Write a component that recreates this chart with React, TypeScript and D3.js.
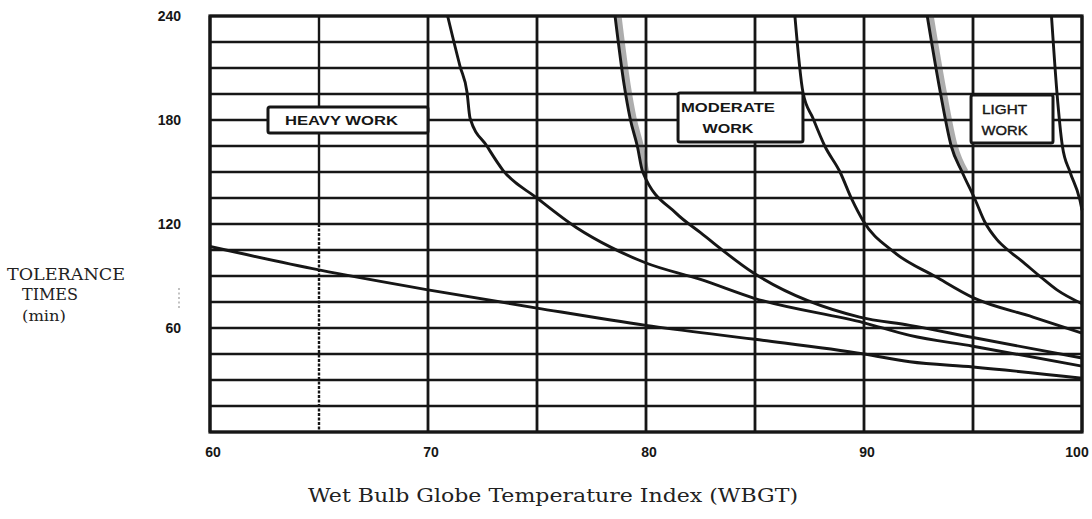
import * as d3 from "d3";

// tick values
const xTicks = [60, 70, 80, 90, 100];
const yTicks = [60, 120, 180, 240];
const xGrid = [60, 65, 70, 75, 80, 85, 90, 95, 100];
const yGrid = [0, 15, 30, 45, 60, 75, 90, 105, 120, 135, 150, 165, 180, 195, 210, 225, 240];

// curves: [WBGT, tolerance minutes]
const heavyLower = [
  [60, 107], [65, 93.5], [70, 82], [75, 71.5], [80, 61.5], [85, 53.5],
  [90, 45], [92.1, 40.5], [95, 37.5], [100, 31],
];
const heavyUpper = [
  [70.9, 240], [71.47, 211], [71.79, 196], [71.93, 181], [72.7, 165],
  [73.44, 151], [75, 135], [76.8, 118], [78.4, 106.5], [80, 97.5],
  [82.5, 88], [85, 77], [90, 63], [92.1, 55.7], [95, 49.5], [100, 38],
];
const moderateLower = [
  [78.58, 240], [79.0, 200], [79.27, 181], [79.6, 165], [79.85, 150],
  [81.4, 126], [82.5, 115], [84.9, 92], [89.8, 66.3], [92.1, 61.5],
  [95, 54.5], [100, 42.7],
];
const moderateUpper = [
  [86.83, 240], [87.2, 196], [87.66, 181], [88.2, 165], [88.9, 150],
  [89.45, 134], [89.95, 122], [91.35, 104], [93.3, 89.5], [95, 77.5],
  [97.75, 66.3], [100, 57],
];
const lightLower = [
  [92.9, 240], [93.5, 196], [94.0, 165], [94.5, 150], [95.1, 134],
  [95.55, 121], [96.1, 111], [96.6, 105], [97.2, 99], [98.1, 89.5],
  [98.85, 82], [100, 74],
];
const lightUpper = [
  [98.6, 240], [98.85, 196], [99.1, 165], [99.45, 150], [99.9, 134], [100, 128],
];

const curves = [heavyLower, heavyUpper, moderateLower, moderateUpper, lightLower, lightUpper];
const smudged = [moderateLower, lightLower];

// label boxes in data units
const boxes = [
  { lines: ["HEAVY WORK"], widths: [113], x0: 62.66, x1: 70, y0: 187.5, y1: 172.5, tx: 66.03, bold: true },
  { lines: ["MODERATE", "WORK"], widths: [94, 51], x0: 81.47, x1: 87.2, y0: 195.6, y1: 167.3, tx: 83.76, bold: true },
  { lines: ["LIGHT", "WORK"], widths: [45, 46], x0: 94.91, x1: 98.67, y0: 194.4, y1: 166.7, tx: 96.45, bold: false },
];

export default function App() {
  const width = 1092;
  const height = 519;

  const x = d3.scaleLinear().domain([60, 100]).range([210, 1082]);
  const y = d3.scaleLinear().domain([0, 240]).range([432, 16]);

  const line = d3
    .line<number[]>()
    .x((d) => x(d[0]))
    .y((d) => y(d[1]))
    .curve(d3.curveMonotoneX);

  const ink = "#161616";
  const sans = "'Liberation Sans', Arial, sans-serif";
  const serif = "'DejaVu Serif', serif";

  return (
    <svg
      width={width}
      height={height}
      style={{ position: "absolute", left: 0, top: 0, background: "#fff" }}
    >
      {/* horizontal grid */}
      {yGrid.map((v) => (
        <line key={"h" + v} x1={x(60)} x2={x(100)} y1={y(v)} y2={y(v)} stroke={ink} strokeWidth={2.6} />
      ))}
      {/* vertical grid */}
      {xGrid.map((v) =>
        v === 65 ? (
          <g key={"v" + v}>
            <line x1={x(v)} x2={x(v)} y1={y(240)} y2={y(120)} stroke={ink} strokeWidth={2.4} />
            <line x1={x(v)} x2={x(v)} y1={y(120)} y2={y(0)} stroke={ink} strokeWidth={2.4} strokeDasharray="3,1.5" />
          </g>
        ) : (
          <line key={"v" + v} x1={x(v)} x2={x(v)} y1={y(0)} y2={y(240)} stroke={ink} strokeWidth={2.8} />
        )
      )}
      <rect x={x(60)} y={y(240)} width={x(100) - x(60)} height={y(0) - y(240)} fill="none" stroke={ink} strokeWidth={3.2} />

      {/* smudge from the copy along the steep parts */}
      {smudged.map((c, i) => (
        <path
          key={"s" + i}
          d={line(c.filter((d) => d[1] >= 150)) || ""}
          fill="none"
          stroke="#333"
          strokeOpacity={0.4}
          strokeWidth={7}
          transform="translate(3,0)"
        />
      ))}

      {/* curves */}
      {curves.map((c, i) => (
        <path key={"c" + i} d={line(c) || ""} fill="none" stroke={ink} strokeWidth={2.9} strokeLinejoin="round" />
      ))}

      {/* label boxes */}
      {boxes.map((b, i) => {
        const bx = x(b.x0);
        const by = y(b.y0);
        const bw = x(b.x1) - x(b.x0);
        const bh = y(b.y1) - y(b.y0);
        const n = b.lines.length;
        return (
          <g key={"b" + i}>
            <rect x={bx} y={by} width={bw} height={bh} rx={2} fill="#fff" stroke={ink} strokeWidth={3} />
            {b.lines.map((t, j) => (
              <text
                key={j}
                x={x(b.tx)}
                y={by + bh / 2 + (n === 1 ? 5 : j === 0 ? -5 : 16)}
                textAnchor="middle"
                fontFamily={sans}
                fontWeight={b.bold ? "bold" : "normal"}
                fontSize={13}
                textLength={b.widths[j]}
                lengthAdjust="spacingAndGlyphs"
                fill={ink}
                stroke={b.bold ? "none" : ink}
                strokeWidth={b.bold ? 0 : 0.4}
              >
                {t}
              </text>
            ))}
          </g>
        );
      })}

      {/* y tick labels */}
      {yTicks.map((v) => (
        <text key={"yt" + v} x={181} y={y(v) + 5} textAnchor="end" fontFamily={sans} fontWeight="bold" fontSize={14} fill={ink}>
          {v}
        </text>
      ))}
      {/* x tick labels */}
      {xTicks.map((v) => (
        <text
          key={"xt" + v}
          x={Math.min(x(v) + 3, 1077)}
          y={457}
          textAnchor="middle"
          fontFamily={sans}
          fontWeight="bold"
          fontSize={14}
          fill={ink}
        >
          {v}
        </text>
      ))}

      {/* small dotted mark left of the axis */}
      <line x1={179} x2={179} y1={288} y2={308} stroke="#999" strokeWidth={1.2} strokeDasharray="2,2.5" />

      {/* y axis title */}
      <g fontFamily={serif} fill="#222">
        <text x={7} y={280} fontSize={17} textLength={118} lengthAdjust="spacingAndGlyphs">TOLERANCE</text>
        <text x={22} y={300} fontSize={16} textLength={56} lengthAdjust="spacingAndGlyphs">TIMES</text>
        <text x={22} y={321} fontSize={15} textLength={44} lengthAdjust="spacingAndGlyphs">(min)</text>
      </g>

      {/* x axis title */}
      <text x={308} y={502} fontFamily={serif} fontSize={19} fill="#222" textLength={490} lengthAdjust="spacingAndGlyphs">
        Wet Bulb Globe Temperature Index (WBGT)
      </text>
    </svg>
  );
}
